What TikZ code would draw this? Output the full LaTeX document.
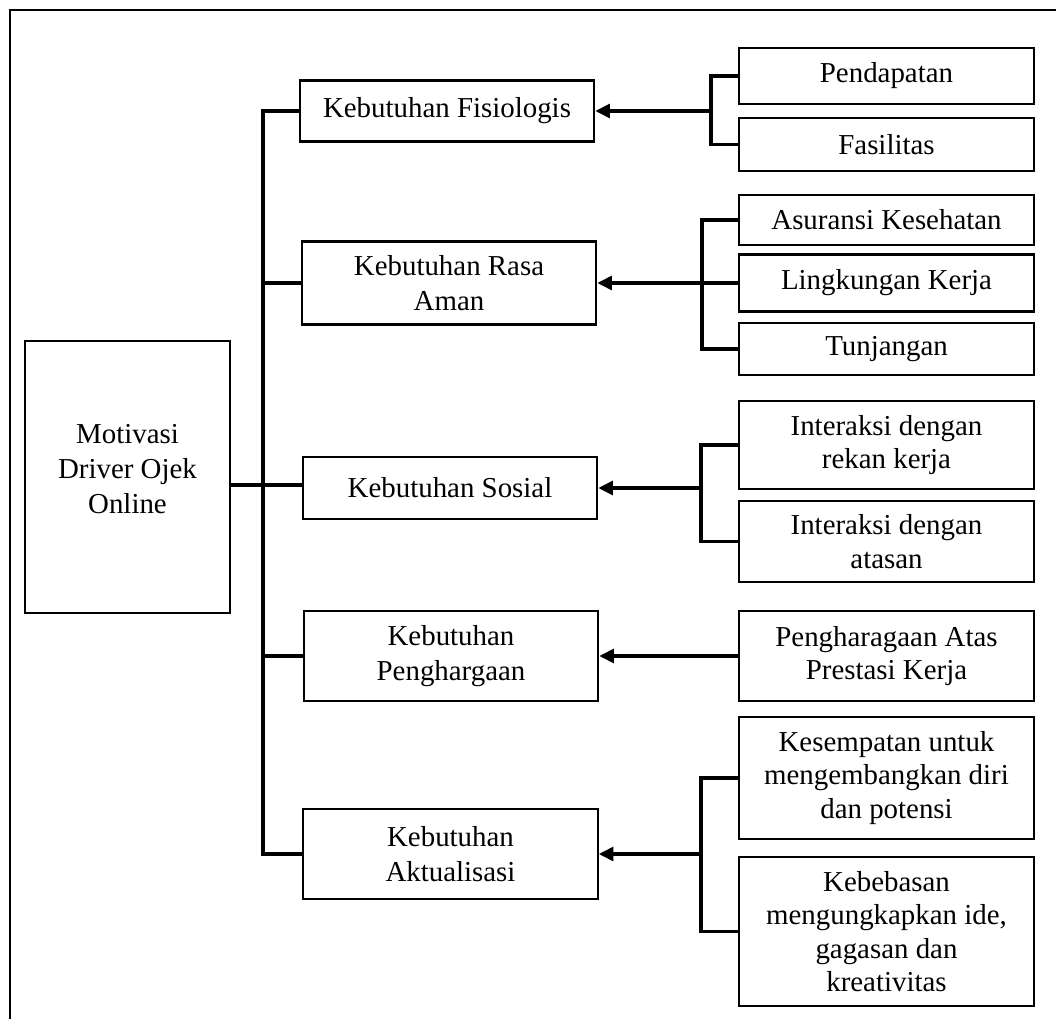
\documentclass[tikz,border=0pt]{standalone}
\usepackage{fontspec}
\setmainfont{Liberation Serif}
\usetikzlibrary{arrows.meta,positioning}
\tikzset{
     need box/.style  = {draw, line width=1pt, align=center, inner sep=0pt,
                         minimum width=132.5pt, font=\fontsize{13}{15.75}\selectfont},
     item box/.style  = {draw, line width=1pt, align=center, inner sep=0pt,
                         minimum width=132.8pt, font=\fontsize{13}{15}\selectfont},
     link/.style      = {black, line width=1.4pt},
     feed/.style      = {black, line width=1.4pt, -{Triangle[length=6.5pt,width=6.2pt]}},
    }

\begin{document}
\begin{tikzpicture}[x=0.45pt,y=-0.45pt]
    \useasboundingbox (0,0) rectangle (1056,1019);
    % frame
    \draw[line width=1.3pt] (1056,10) -- (10,10) -- (10,1019);

    % root
    \node [need box, minimum width=92.3pt, minimum height=122.4pt, text depth=7.5pt] (main) at (127.5,477) {Motivasi\\Driver Ojek\\Online};

    % needs
    \node [need box, minimum height=27.5pt] (fis)   at (447,111)   {Kebutuhan Fisiologis};
    \node [need box, minimum height=37.4pt] (aman)  at (449,283)   {Kebutuhan Rasa\\Aman};
    \node [need box, minimum height=27.9pt] (sos)   at (450,488)   {Kebutuhan Sosial};
    \node [need box, minimum height=40.5pt] (harga) at (451,656)   {Kebutuhan\\Penghargaan};
    \node [need box, minimum height=40.5pt] (akt)   at (450.5,854) {Kebutuhan\\Aktualisasi};

    % indicators
    \node [item box, minimum height=25.2pt] (pend)  at (886.5,76)    {Pendapatan};
    \node [item box, minimum height=23.9pt] (fasil) at (886.5,144.5) {Fasilitas};
    \node [item box, minimum height=22.5pt] (asur)  at (886.5,220)   {Asuransi Kesehatan};
    \node [item box, minimum height=25.7pt] (ling)  at (886.5,283)   {Lingkungan Kerja};
    \node [item box, minimum height=23.4pt] (tunj)  at (886.5,349)   {Tunjangan};
    \node [item box, minimum height=39.6pt] (irek)  at (886.5,445)   {Interaksi dengan\\rekan kerja};
    \node [item box, minimum height=36.5pt] (iata)  at (886.5,541.5) {Interaksi dengan\\atasan};
    \node [item box, minimum height=40.5pt] (atas)  at (886.5,656)   {Pengharagaan Atas\\Prestasi Kerja};
    \node [item box, minimum height=54.9pt] (kesem) at (886.5,778)   {Kesempatan untuk\\mengembangkan diri\\dan potensi};
    \node [item box, minimum height=67.1pt] (bebas) at (886.5,931.5) {Kebebasan\\mengungkapkan ide,\\gagasan dan\\kreativitas};

    \coordinate (tr) at (263,0);
    \coordinate (bf) at (711,111);
    \coordinate (ba) at (702,283);
    \coordinate (bs) at (701,488);
    \coordinate (bk) at (701,854);

    % trunk
    \draw[link] (fis.west) -| (tr |- akt.west) -- (akt.west);
    \draw[link] (tr |- aman.west) -- (aman.west);
    \draw[link] (main.east |- 0,485) -- (sos.west |- 0,485);
    \draw[link] (tr |- harga.west) -- (harga.west);

    % brackets
    \draw[link] (pend.west) -| (bf) |- (fasil.west);
    \draw[link] (asur.west) -| (ba) |- (tunj.west);
    \draw[link] (irek.west) -| (bs) |- (iata.west);
    \draw[link] (kesem.west) -| (bk) |- (bebas.west);

    \draw[feed] (bf) -- (fis.east);
    \draw[feed] (ling.west) -- (aman.east);
    \draw[feed] (bs) -- (sos.east);
    \draw[feed] (atas.west) -- (harga.east);
    \draw[feed] (bk) -- (akt.east);
\end{tikzpicture}
\end{document}
